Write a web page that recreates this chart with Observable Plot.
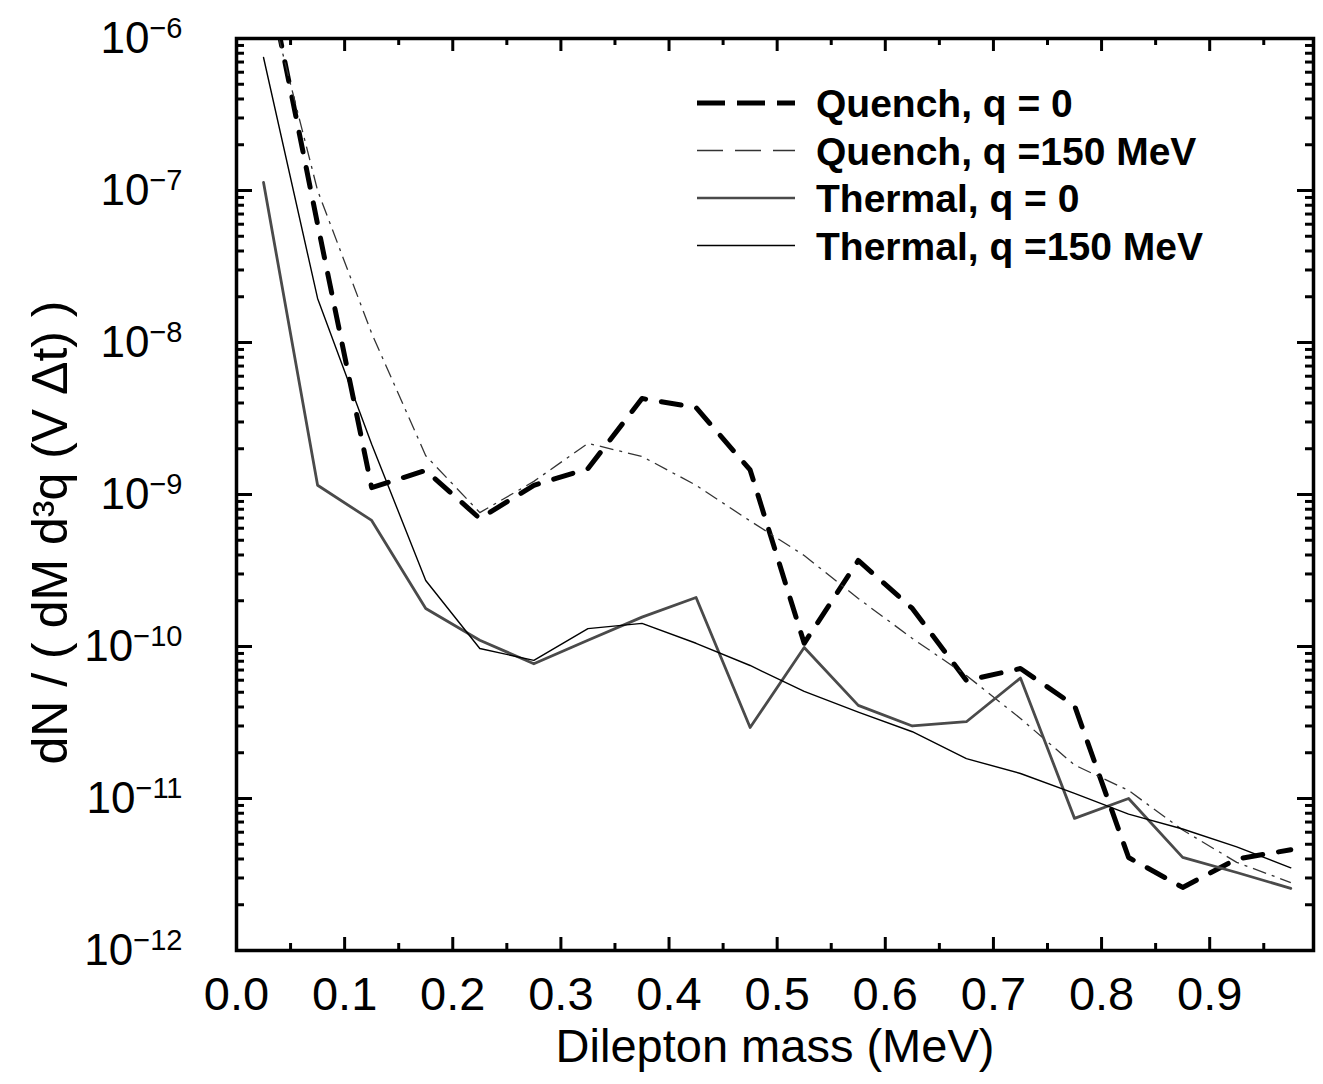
<!DOCTYPE html>
<html>
<head>
<meta charset="utf-8">
<script src="https://cdn.jsdelivr.net/npm/d3@7"></script>
<script src="https://cdn.jsdelivr.net/npm/@observablehq/plot@0.6"></script>
<style>
  body { margin: 0; background: #fff; }
  #chart { position: relative; width: 1323px; height: 1084px; }
</style>
</head>
<body>
<div id="chart"></div>
<script>
// ---- data ----
const mass = [0.025, 0.075, 0.125, 0.175, 0.225, 0.275, 0.325, 0.375, 0.425, 0.475,
              0.525, 0.575, 0.625, 0.675, 0.725, 0.775, 0.825, 0.875, 0.925, 0.975];
const quench0 = [3.5e-6, 6.0e-8, 1.11e-9, 1.44e-9, 6.95e-10, 1.15e-9, 1.48e-9, 4.28e-9, 3.73e-9, 1.45e-9,
                 1.05e-10, 3.68e-10, 1.78e-10, 5.97e-11, 7.16e-11, 4.09e-11, 4.09e-12, 2.6e-12, 4.0e-12, 4.6e-12];
const quench150 = [2.5e-6, 1.0e-7, 1.15e-8, 1.8e-9, 7.6e-10, 1.22e-9, 2.17e-9, 1.78e-9, 1.15e-9, 6.7e-10,
                   3.97e-10, 2.07e-10, 1.13e-10, 6.45e-11, 3.36e-11, 1.66e-11, 1.13e-11, 6.2e-12, 3.8e-12, 2.8e-12];
const thermal0 = [1.13e-7, 1.15e-9, 6.75e-10, 1.78e-10, 1.1e-10, 7.7e-11, 1.1e-10, 1.56e-10, 2.1e-10, 2.93e-11,
                  9.85e-11, 4.1e-11, 3.0e-11, 3.2e-11, 6.2e-11, 7.4e-12, 1.0e-11, 4.1e-12, 3.26e-12, 2.56e-12];
const thermal150 = [7.5e-7, 1.95e-8, 2.14e-9, 2.72e-10, 9.7e-11, 8.1e-11, 1.31e-10, 1.42e-10, 1.05e-10, 7.5e-11,
                    5.06e-11, 3.7e-11, 2.75e-11, 1.83e-11, 1.46e-11, 1.08e-11, 7.9e-12, 6.3e-12, 4.8e-12, 3.5e-12];
const seriesNames = ["Quench, q = 0", "Quench, q =150 MeV", "Thermal, q = 0", "Thermal, q =150 MeV"];

const xMajorTicks = [0.0, 0.1, 0.2, 0.3, 0.4, 0.5, 0.6, 0.7, 0.8, 0.9];
const xMinorTicks = [0.05, 0.15, 0.25, 0.35, 0.45, 0.55, 0.65, 0.75, 0.85, 0.95];
const yExponents = [-12, -11, -10, -9, -8, -7, -6];
const xTitle = "Dilepton mass (MeV)";
const yTitle = "dN / ( dM d³q (V Δt) )";

// ---- derived tables ----
const yMajorTicks = yExponents.map(e => Math.pow(10, e));
const yMinorTicks = yExponents.slice(0, -1).flatMap(e => [2,3,4,5,6,7,8,9].map(m => m * Math.pow(10, e)));
const seriesValues = [quench0, quench150, thermal0, thermal150];
const styles = [
  {stroke: "#000", strokeWidth: 5, strokeDasharray: "20,16", strokeLinecap: "round"},
  {stroke: "#333", strokeWidth: 1.3, strokeDasharray: "14,6,3,6", strokeLinecap: "butt"},
  {stroke: "#4a4a4a", strokeWidth: 2.8, strokeDasharray: null, strokeLinecap: "round"},
  {stroke: "#000", strokeWidth: 1.4, strokeDasharray: null, strokeLinecap: "round"}
];
const table = seriesNames.map((name, i) => mass.map((m, j) => ({series: name, x: m, y: seriesValues[i][j]})));

const W = 1323, Hh = 1084;
const mL = 236, mR = 10, mT = 38, mB = 134;
const FW = W - mL - mR, FH = Hh - mT - mB;
const FONT = "'Liberation Sans', Arial, Helvetica, sans-serif";

const plot = Plot.plot({
  width: W, height: Hh,
  marginLeft: mL, marginRight: mR, marginTop: mT, marginBottom: mB,
  style: {fontFamily: FONT, background: "#fff", color: "#000"},
  x: {domain: [0, 0.996]},
  y: {type: "log", domain: [1e-12, 1e-6]},
  marks: [
    // series
    ...table.map((rows, i) => Plot.line(rows, {x: "x", y: "y", clip: true, ...styles[i], strokeLinejoin: "round"})),
    // inward ticks: bottom & top
    Plot.ruleX(xMajorTicks, {x: d => d, insetTop: FH - 13, strokeWidth: 3}),
    Plot.ruleX(xMinorTicks, {x: d => d, insetTop: FH - 7, strokeWidth: 3}),
    Plot.ruleX(xMajorTicks, {x: d => d, insetBottom: FH - 13, strokeWidth: 3}),
    Plot.ruleX(xMinorTicks, {x: d => d, insetBottom: FH - 7, strokeWidth: 3}),
    // inward ticks: left & right
    Plot.ruleY(yMajorTicks, {y: d => d, insetRight: FW - 16, strokeWidth: 3}),
    Plot.ruleY(yMinorTicks, {y: d => d, insetRight: FW - 8, strokeWidth: 3}),
    Plot.ruleY(yMajorTicks, {y: d => d, insetLeft: FW - 16, strokeWidth: 3}),
    Plot.ruleY(yMinorTicks, {y: d => d, insetLeft: FW - 8, strokeWidth: 3}),
    Plot.frame({stroke: "#000", strokeWidth: 3.5}),
    // tick labels
    Plot.axisX({ticks: xMajorTicks, tickSize: 0, tickPadding: 26, fontSize: 47, tickFormat: d3.format(".1f"), label: null}),
    Plot.axisY({ticks: yMajorTicks, tickSize: 0, tickPadding: 54, fontSize: 44, tickFormat: d => "E" + Math.round(Math.log10(d)), label: null}),
    // axis titles
    Plot.text([xTitle], {frameAnchor: "bottom", text: d => d, dy: 96, lineAnchor: "middle", textAnchor: "middle", fontSize: 47}),
    Plot.text([yTitle], {frameAnchor: "left", text: d => d, rotate: -90, dx: -186, dy: 38, lineAnchor: "middle", textAnchor: "middle", fontSize: 50})
  ]
});

// superscript exponents on y tick labels
d3.select(plot).selectAll('g[aria-label="y-axis tick label"] text').each(function() {
  const t = this.textContent;
  if (!t.startsWith("E")) return;
  const e = +t.slice(1);
  const sel = d3.select(this);
  sel.text("10");
  sel.append("tspan").attr("dy", "-0.5em").attr("font-size", 29).text("\u2212" + Math.abs(e));
});

// legend inside the frame
const lg = d3.select(plot).append("g").attr("class", "legend")
  .attr("font-family", FONT).attr("text-anchor", "start");
seriesNames.forEach((name, i) => {
  const yy = 103 + i * 47.5;
  const s = styles[i];
  lg.append("line").attr("x1", 697).attr("x2", 795).attr("y1", yy).attr("y2", yy)
    .attr("stroke", s.stroke).attr("stroke-width", i === 0 ? 5 : (i === 2 ? 2.6 : 1.4))
    .attr("stroke-dasharray", i === 0 ? "28,12" : (i === 1 ? "26,12" : null))
    .attr("stroke-linecap", "butt");
  lg.append("text").attr("x", 816).attr("y", yy).attr("dy", "0.36em").attr("text-anchor", "start")
    .attr("font-size", 39).attr("font-weight", "bold").attr("fill", "#000").text(name);
});

document.getElementById("chart").appendChild(plot);
</script>
</body>
</html>
